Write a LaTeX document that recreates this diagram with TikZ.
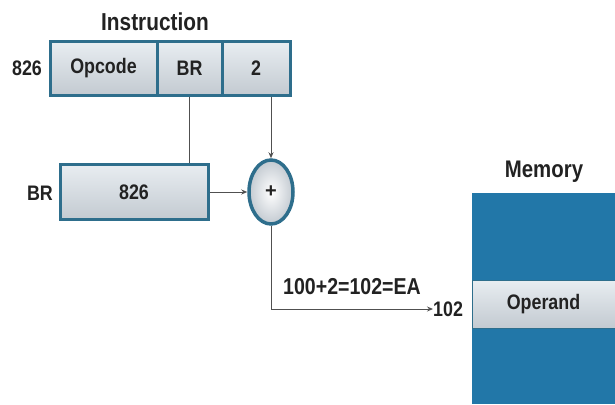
\documentclass[tikz,border=0pt]{standalone}
\usepackage{fontspec}
\setmainfont{Liberation Sans}
\newfontfamily\nf[FakeStretch=0.85]{Liberation Sans}
\usetikzlibrary{arrows.meta,shapes.geometric}
\definecolor{bord}{HTML}{2E6E8C}
\definecolor{celltop}{HTML}{E8EDF1}
\definecolor{cellbot}{HTML}{C3CAD1}
\definecolor{memblue}{HTML}{2277A8}
\definecolor{wire}{HTML}{505050}
\definecolor{txt}{HTML}{222222}
\begin{document}
\begin{tikzpicture}[x=1pt,y=-1pt,
  cell/.style={draw=bord,line width=3pt,top color=celltop,bottom color=cellbot,
    minimum height=53pt,inner sep=0pt,font=\nf\fontsize{21}{24}\selectfont\bfseries,text=txt},
  lbl/.style={font=\nf\fontsize{21}{24}\selectfont\bfseries,text=txt,inner sep=1pt},
  wireline/.style={draw=wire,line width=0.9pt},
  arr/.style={wireline,-{Stealth[length=6pt,width=5pt]}}]
\useasboundingbox (0,0) rectangle (615,404);
\fill[white] (0,0) rectangle (615,404);
% instruction
\node[cell,minimum width=107pt] (opc) at (103.5,68.5) {Opcode};
\node[cell,minimum width=65pt] (brc) at (189.5,68.5) {BR};
\node[cell,minimum width=68pt] (two) at (256,68.5) {2};
\node[font=\nf\fontsize{24.5}{28}\selectfont\bfseries,text=txt] (instr) at (155,22) {Instruction};
\node[lbl] (i826) at (27,68) {826};
% BR register
\node[cell,minimum width=148pt,minimum height=55pt] (breg) at (134,192) {826};
\node[lbl] (brl) at (40,193) {BR};
% adder
\node[ellipse,draw=bord,line width=3.5pt,shading=radial,inner color=white,outer color=cellbot,
  minimum width=44pt,minimum height=64pt,inner sep=0pt,
  font=\fontsize{20}{22}\selectfont\bfseries,text=txt] (plus) at (271,192) {+};
% memory
\node[fill=memblue,minimum width=143pt,minimum height=211pt,inner sep=0pt] (mem) at (543.5,298.5) {};
\node[draw=bord,line width=0.8pt,top color=celltop,bottom color=cellbot,
  minimum width=143pt,minimum height=48pt,inner sep=0pt,
  font=\nf\fontsize{21}{24}\selectfont\bfseries,text=txt] (oper) at (543.5,304) {Operand};
\node[font=\nf\fontsize{24}{28}\selectfont\bfseries,text=txt] (meml) at (544,172) {Memory};
\node[lbl,anchor=west,inner sep=0pt] (addr) at (433,309) {102};
\node[font=\nf\fontsize{23}{26}\selectfont\bfseries,text=txt] (ea) at (352,287) {100+2=102=EA};
% connectors
\draw[wireline] (brc.south) -- (brc.south |- breg.north);
\draw[arr] (plus.north |- two.south) -- (plus.north);
\draw[arr] (breg.east) -- (plus.west);
\draw[arr] (plus.south) |- (addr.west);
\end{tikzpicture}
\end{document}
